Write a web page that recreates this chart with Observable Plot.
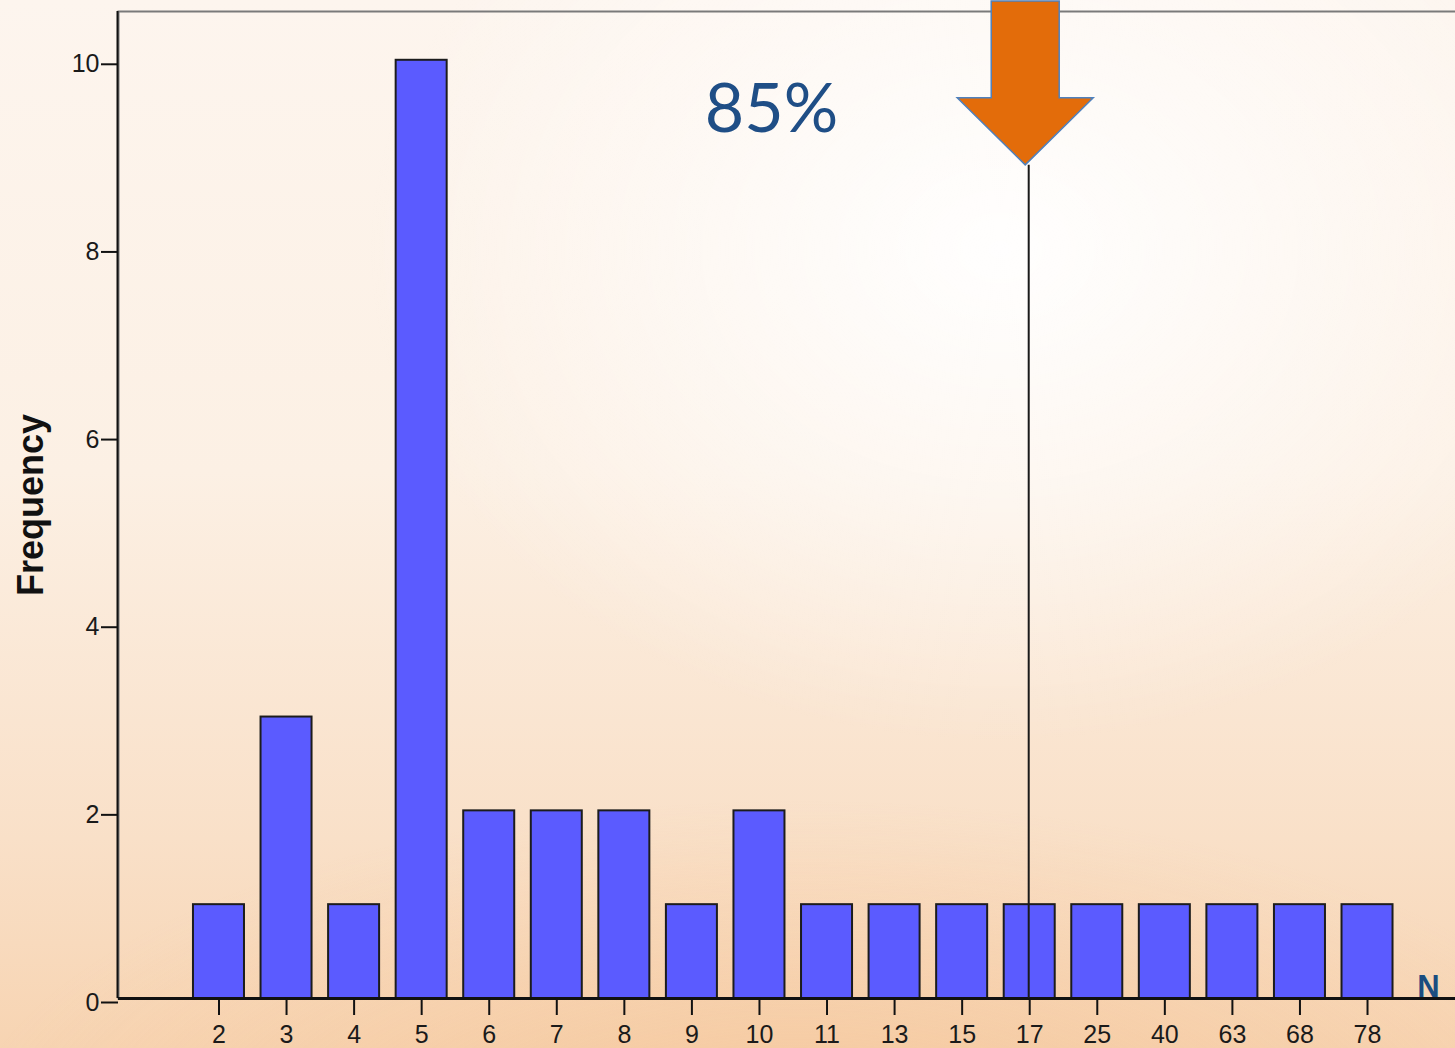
<!DOCTYPE html>
<html>
<head>
<meta charset="utf-8">
<script src="https://cdn.jsdelivr.net/npm/d3@7"></script>
<script src="https://cdn.jsdelivr.net/npm/@observablehq/plot@0.6"></script>
<style>
  html, body { margin: 0; padding: 0; overflow: hidden; width: 1455px; height: 1048px; }
  body {
    background:
      radial-gradient(ellipse 900px 700px at 1000px 250px, rgba(255,255,255,0.95), rgba(255,255,255,0) 70%),
      radial-gradient(ellipse 1200px 500px at 800px 1150px, rgba(244,190,140,0.5), rgba(244,190,140,0) 70%),
      linear-gradient(180deg, #fdf5ee 0%, #fcf0e4 45%, #f9e0c8 80%, #f7d4b2 100%);
  }
  #chart { position: absolute; left: 0; top: 0; width: 1460px; }
  #chart svg { max-width: none !important; }
</style>
</head>
<body>
<div id="chart"></div>
<script>
// Data
const categories = ["2","3","4","5","6","7","8","9","10","11","13","15","17","25","40","63","68","78"];
const frequencies = [1, 3, 1, 10, 2, 2, 2, 1, 2, 1, 1, 1, 1, 1, 1, 1, 1, 1];
const yTicks = [0, 2, 4, 6, 8, 10];
const markerCategory = "17";
const markerTop = 8.88;      // where the marker line meets the arrow tip (frequency units)
const annotation = "85%";
const yLabel = "Frequency";
const xLabel = "N";

const data = categories.map((c, i) => ({N: c, freq: frequencies[i]}));

// arrow annotation drawn relative to the marker category
function arrowMark(index, scales, values, dims) {
  const cx = scales.x(markerCategory) + scales.x.bandwidth() / 2 - 4;
  const tip = scales.y(markerTop);
  const headY = tip - 67, topY = 1;
  const pts = [
    [cx - 34, topY], [cx + 34, topY], [cx + 34, headY], [cx + 68, headY],
    [cx, tip], [cx - 68, headY], [cx - 34, headY]
  ];
  const p = document.createElementNS("http://www.w3.org/2000/svg", "polygon");
  p.setAttribute("points", pts.map(d => d.join(",")).join(" "));
  p.setAttribute("fill", "#e36c0a");
  p.setAttribute("stroke", "#4f81bd");
  p.setAttribute("stroke-width", "1.5");
  return p;
}

function leftLine(index, scales, values, dims) {
  const l = document.createElementNS("http://www.w3.org/2000/svg", "line");
  l.setAttribute("x1", dims.marginLeft - 0.5);
  l.setAttribute("x2", dims.marginLeft - 0.5);
  l.setAttribute("y1", dims.marginTop);
  l.setAttribute("y2", dims.height - dims.marginBottom);
  l.setAttribute("stroke", "#111");
  l.setAttribute("stroke-width", "2");
  return l;
}

const plot = Plot.plot({
  width: 1460,
  height: 1048,
  marginLeft: 118,
  marginRight: 0,
  marginTop: 11,
  marginBottom: 50,
  style: {background: "transparent", fontFamily: "Arial, 'Liberation Sans', sans-serif", color: "#1a1a1a", overflow: "visible", maxWidth: "none"},
  x: {domain: categories, round: false, paddingInner: 0.245, paddingOuter: 0.1225, insetLeft: 66.7, insetRight: 59.2, label: null},
  y: {domain: [0, 10.52], label: null},
  marks: [
    Plot.frame({stroke: "#7a7a7a", strokeWidth: 2}),
    Plot.barY(data, {x: "N", y: "freq", fill: "#5b5bff", stroke: "#1c1c1c", strokeWidth: 2}),
    Plot.ruleY([0], {stroke: "#111", strokeWidth: 3}),
    leftLine,
    Plot.axisY({ticks: yTicks, tickSize: 17, tickPadding: 2, fontSize: 25, tickFormat: d => String(d), dy: 4, strokeWidth: 2, stroke: "#111", fill: "#1a1a1a"}),
    Plot.axisX({tickSize: 17, tickPadding: 10, fontSize: 25, strokeWidth: 2, stroke: "#111", fill: "#1a1a1a"}),
    Plot.ruleX([markerCategory], {y1: markerTop, y2: 0, stroke: "#1a1a1a", strokeWidth: 2, dx: -1}),
    arrowMark,
    Plot.text([yLabel], {frameAnchor: "left", rotate: -90, dx: -87, fontSize: 36, fontWeight: "bold", fill: "#111", textAnchor: "middle", lineAnchor: "middle"}),
    Plot.text([xLabel], {frameAnchor: "bottom-right", dx: -32, dy: -11, fontSize: 31, fontWeight: "bold", fill: "#1a4d80", textAnchor: "middle", lineAnchor: "middle"}),
    Plot.text([annotation], {frameAnchor: "top-left", dx: 653, dy: 99, fontSize: 68, fontFamily: "Lato, 'Open Sans', sans-serif", fill: "#1f4e86", textAnchor: "middle", lineAnchor: "middle"})
  ]
});

document.getElementById("chart").appendChild(plot);
</script>
</body>
</html>
